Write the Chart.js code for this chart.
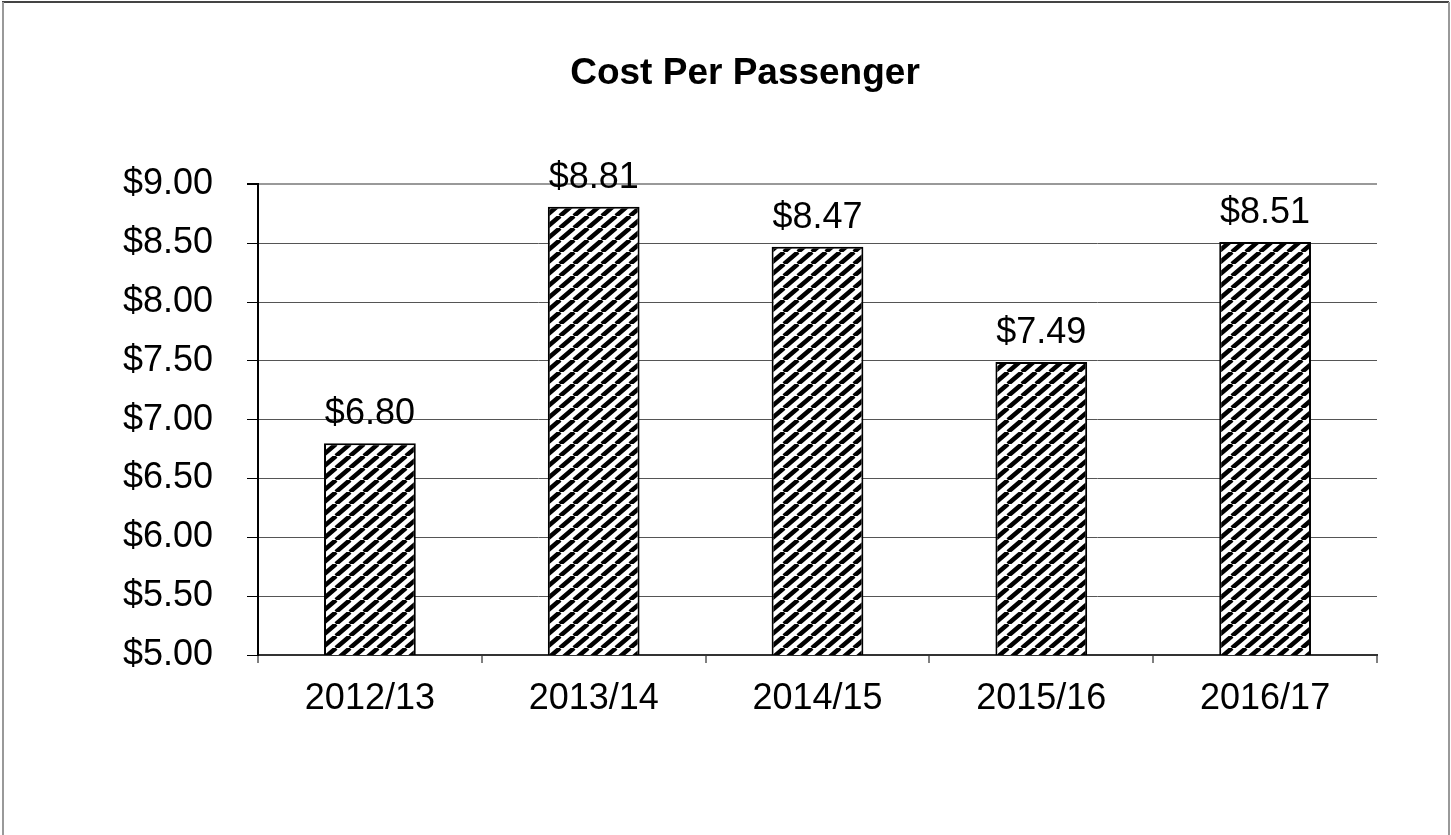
<!DOCTYPE html>
<html>
<head>
<meta charset="utf-8">
<script src="https://cdn.jsdelivr.net/npm/chart.js@4.4.1/dist/chart.umd.min.js"></script>
<style>
  html, body { margin: 0; padding: 0; background: #fff; }
  #wrap { width: 1451px; height: 835px; }
</style>
</head>
<body>
<div id="wrap"><canvas id="canvas1" width="1451" height="835"></canvas></div>
<script>
var years = ["2012/13", "2013/14", "2014/15", "2015/16", "2016/17"];
var costs = [6.80, 8.81, 8.47, 7.49, 8.51];
var yMin = 5, yMax = 9, yStep = 0.5;
var chartTitle = "Cost Per Passenger";

function money(v) {
  return "$" + Number(v).toFixed(2);
}

// black diagonal hatch, like the old office chart fill
function makeHatch() {
  var w = 14, h = 12;
  var c = document.createElement("canvas");
  c.width = w; c.height = h;
  var g = c.getContext("2d");
  g.fillStyle = "#fff";
  g.fillRect(0, 0, w, h);
  g.strokeStyle = "#000";
  g.lineWidth = 4.5;
  g.beginPath();
  g.moveTo(0, h); g.lineTo(w, 0);
  g.moveTo(-w, h); g.lineTo(0, 0);
  g.moveTo(w, h); g.lineTo(2 * w, 0);
  g.stroke();
  return g.createPattern(c, "repeat");
}

var framePlugin = {
  id: "frame",
  beforeDraw: function(chart) {
    var ctx = chart.ctx;
    ctx.save();
    ctx.fillStyle = "#fff";
    ctx.fillRect(0, 0, chart.width, chart.height);
    ctx.strokeStyle = "#444";
    ctx.lineWidth = 2;
    ctx.beginPath();
    ctx.moveTo(2, 2); ctx.lineTo(1449, 2);
    ctx.stroke();
    ctx.strokeStyle = "#999";
    ctx.beginPath();
    ctx.moveTo(3, 2); ctx.lineTo(3, 835);
    ctx.moveTo(1449, 2); ctx.lineTo(1449, 835);
    ctx.stroke();
    ctx.restore();
  }
};

var valueLabels = {
  id: "valueLabels",
  afterDatasetsDraw: function(chart) {
    var ctx = chart.ctx;
    var meta = chart.getDatasetMeta(0);
    ctx.save();
    ctx.font = "36px 'Liberation Sans', Arial, sans-serif";
    ctx.fillStyle = "#000";
    ctx.textAlign = "center";
    ctx.textBaseline = "alphabetic";
    for (var i = 0; i < meta.data.length; i++) {
      var bar = meta.data[i];
      ctx.fillText(money(costs[i]), bar.x, bar.y - 19);
    }
    ctx.restore();
  }
};

var ctx1 = document.getElementById("canvas1");
var myChart = new Chart(ctx1, {
  type: "bar",
  data: {
    labels: years,
    datasets: [{
      label: chartTitle,
      data: costs,
      backgroundColor: makeHatch(),
      borderColor: "#000",
      borderWidth: 2,
      borderSkipped: false,
      categoryPercentage: 1,
      barPercentage: 0.41
    }]
  },
  options: {
    responsive: false,
    animation: false,
    devicePixelRatio: 1,
    layout: { padding: { left: 113, right: 74, top: 0, bottom: 50 } },
    plugins: {
      legend: { display: false },
      tooltip: { enabled: false },
      title: {
        display: true,
        text: chartTitle,
        color: "#000",
        font: { family: "'Liberation Sans', Arial, sans-serif", size: 37, weight: "bold" },
        padding: { top: 52, bottom: 88 }
      }
    },
    scales: {
      x: {
        afterFit: function(scale) { scale.height = 130; },
        grid: {
          offset: true,
          drawOnChartArea: true,
          color: function(c) { return c.index === years.length ? "#999" : "rgba(0,0,0,0)"; },
          lineWidth: 2,
          tickColor: "#000",
          tickWidth: 1,
          tickLength: 8
        },
        border: { display: true, color: "#333", width: 2 },
        ticks: {
          color: "#000",
          padding: 14,
          maxRotation: 0,
          font: { family: "'Liberation Sans', Arial, sans-serif", size: 36 }
        }
      },
      y: {
        min: yMin,
        max: yMax,
        afterFit: function(scale) { scale.width = 145; },
        grid: {
          color: function(c) { return c.tick && c.tick.value === yMax ? "#999" : "#555"; },
          lineWidth: function(c) { return c.tick && c.tick.value === yMax ? 2 : 1; },
          tickColor: "#000",
          tickLength: 11
        },
        border: { display: true, color: "#000", width: 2 },
        ticks: {
          stepSize: yStep,
          color: "#000",
          padding: 34,
          font: { family: "'Liberation Sans', Arial, sans-serif", size: 36 },
          callback: function(v) { return money(v); }
        }
      }
    }
  },
  plugins: [framePlugin, valueLabels]
});
</script>
</body>
</html>
